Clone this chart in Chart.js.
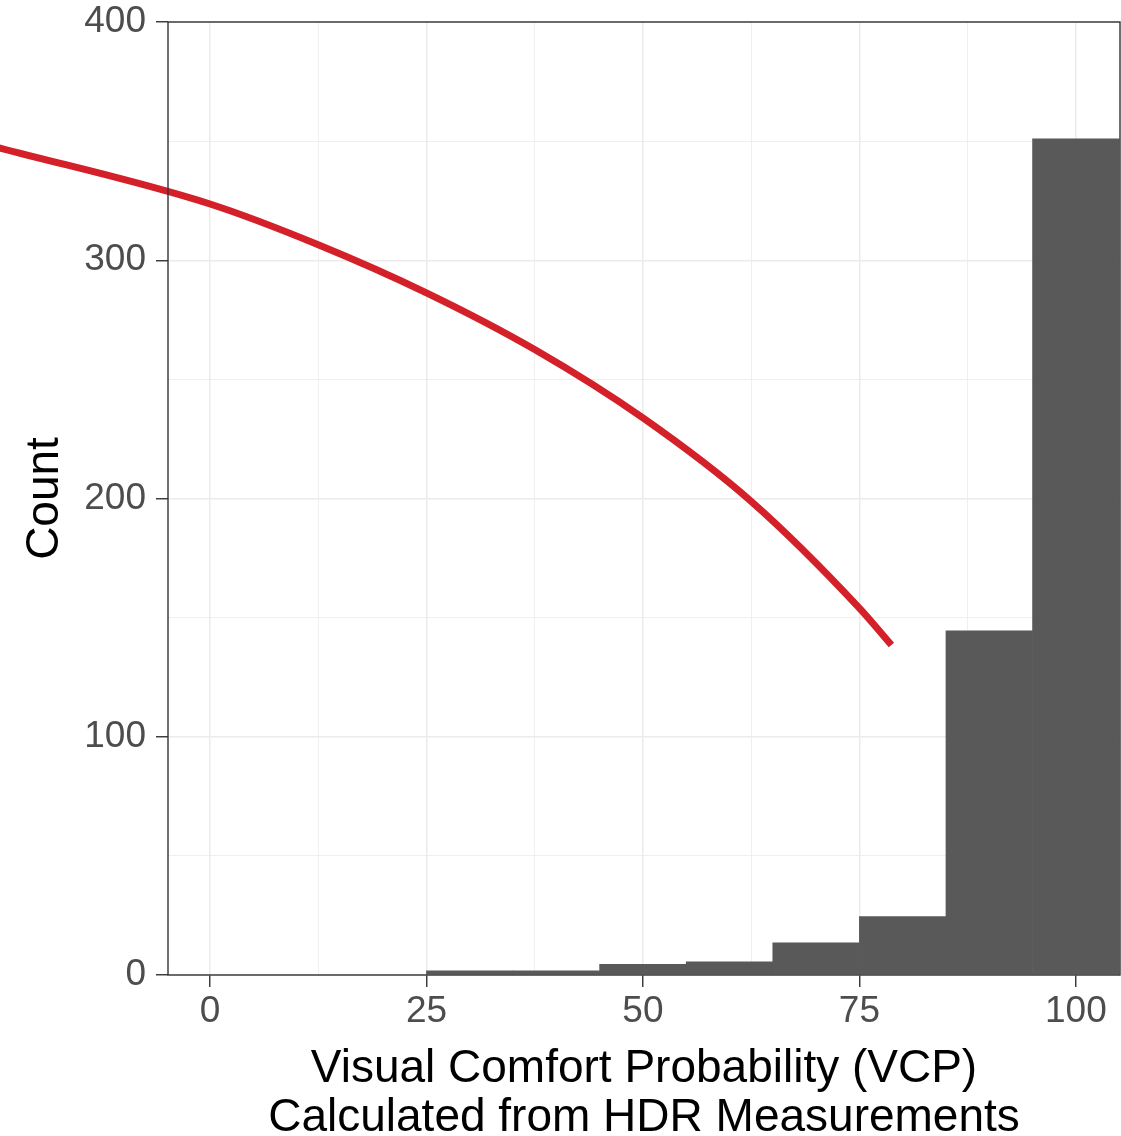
<!DOCTYPE html>
<html>
<head>
<meta charset="utf-8">
<script src="https://cdn.jsdelivr.net/npm/chart.js@4/dist/chart.umd.min.js"></script>
<style>
  html, body { margin: 0; padding: 0; background: #fff; }
  #wrap { width: 1121px; height: 1136px; }
</style>
</head>
<body>
<div id="wrap"><canvas id="myChart" width="1121" height="1136"></canvas></div>
<script>
// histogram bins (centre of each 10-wide bin) and counts
const binCentres = [30, 40, 50, 60, 70, 80, 90, 100];
const counts = [1.7, 1.7, 4.5, 5.5, 13.5, 24.5, 144.5, 351];

// red fitted curve
const curveX = [-25, 0, 12.5, 25, 37.5, 50, 62.5, 75, 78.7];
const curveY = [347.8, 323.6, 306.5, 286.3, 262.5, 233.8, 198.8, 154, 138.5];

const xTicks = [0, 12.5, 25, 37.5, 50, 62.5, 75, 87.5, 100];
const yTicks = [0, 50, 100, 150, 200, 250, 300, 350, 400];
const xLabels = [0, 25, 50, 75, 100];
const yLabels = [0, 100, 200, 300, 400];

const FONT = '"Liberation Sans", Arial, sans-serif';

const panelBorder = {
    id: 'panelBorder',
    afterDatasetsDraw(chart){
        const {ctx, chartArea: a} = chart;
        ctx.save();
        ctx.strokeStyle = '#333333';
        ctx.lineWidth = 1.4;
        ctx.strokeRect(a.left, a.top, a.right - a.left, a.bottom - a.top);
        ctx.restore();
    }
};

const ctx = document.getElementById('myChart').getContext('2d');
const myChart = new Chart(ctx, {
    type: 'bar',
    data: {
        datasets: [{
            type: 'line',
            data: curveX.map((x, i) => ({x: x, y: curveY[i]})),
            borderColor: '#D32029',
            borderWidth: 7,
            borderCapStyle: 'butt',
            pointRadius: 0,
            cubicInterpolationMode: 'monotone',
            clip: false
        },
        {
            data: binCentres.map((x, i) => ({x: x, y: counts[i]})),
            backgroundColor: '#595959',
            borderWidth: 0,
            barPercentage: 1,
            categoryPercentage: 1
        }]
    },
    options: {
        responsive: false,
        animation: false,
        layout: { padding: {top: 22, right: 1, left: 0, bottom: 0} },
        plugins: {
            legend: { display: false },
            tooltip: { enabled: false }
        },
        scales: {
            x: {
                type: 'linear',
                min: -4.85,
                max: 105.1,
                offset: false,
                afterBuildTicks: s => { s.ticks = xTicks.map(v => ({value: v})); },
                afterFit: s => { s.height = 161; },
                border: { display: false },
                grid: {
                    offset: false,
                    color: '#EBEBEB',
                    lineWidth: c => xLabels.includes(c.tick.value) ? 1.5 : 0.8,
                    tickColor: c => xLabels.includes(c.tick.value) ? '#333333' : 'rgba(0,0,0,0)',
                    tickLength: 12,
                    tickWidth: 1.4
                },
                ticks: {
                    autoSkip: false,
                    maxRotation: 0,
                    padding: 3,
                    color: '#4D4D4D',
                    font: { family: FONT, size: 37 },
                    callback: v => xLabels.includes(v) ? String(v) : ''
                },
                title: {
                    display: true,
                    text: ['Visual Comfort Probability (VCP)', 'Calculated from HDR Measurements'],
                    color: '#000000',
                    font: { family: FONT, size: 46, lineHeight: 1.05 },
                    padding: { top: 0, bottom: -6 }
                }
            },
            y: {
                type: 'linear',
                min: 0,
                max: 400,
                afterBuildTicks: s => { s.ticks = yTicks.map(v => ({value: v})); },
                afterFit: s => { s.width = 168; },
                border: { display: false },
                grid: {
                    color: '#EBEBEB',
                    lineWidth: c => yLabels.includes(c.tick.value) ? 1.5 : 0.8,
                    tickColor: c => yLabels.includes(c.tick.value) ? '#333333' : 'rgba(0,0,0,0)',
                    tickLength: 12,
                    tickWidth: 1.4
                },
                ticks: {
                    autoSkip: false,
                    padding: 10,
                    color: '#4D4D4D',
                    font: { family: FONT, size: 37, lineHeight: 0.6 },
                    callback: v => yLabels.includes(v) ? String(v) : ''
                },
                title: {
                    display: true,
                    text: 'Count',
                    color: '#000000',
                    font: { family: FONT, size: 46, lineHeight: 1 },
                    padding: { top: 22, bottom: 0 }
                }
            }
        }
    },
    plugins: [panelBorder]
});
</script>
</body>
</html>
